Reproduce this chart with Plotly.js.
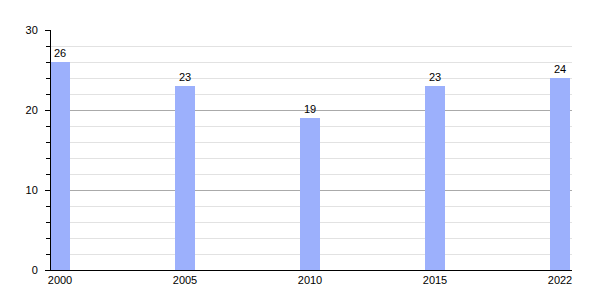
<!DOCTYPE html>
<html><head><meta charset="utf-8">
<script src="https://cdn.plot.ly/plotly-3.0.1.min.js"></script>
<style>html,body{margin:0;padding:0;background:#fff}#c{width:600px;height:300px}</style>
</head><body><div id="c"></div>
<script>
const years = ['2000','2005','2010','2015','2022'];
const values = [26, 23, 19, 23, 24];
const yTicks = [0, 10, 20, 30];

Plotly.newPlot('c', [{
  type: 'bar',
  x: years,
  y: values,
  width: 0.16,
  marker: {color: '#9cb0fc'},
  text: values.map(String),
  textposition: 'outside',
  cliponaxis: false,
  textfont: {family: 'Liberation Sans, Arial, sans-serif', size: 11, color: '#000000'},
  hoverinfo: 'none'
}], {
  width: 600, height: 300,
  margin: {l: 51, r: 28, t: 30, b: 30},
  paper_bgcolor: '#fff', plot_bgcolor: '#fff',
  showlegend: false,
  font: {family: 'Liberation Sans, Arial, sans-serif', size: 11, color: '#000000'},
  xaxis: {
    type: 'category',
    range: [-0.072, 4.096],
    showgrid: false,
    showline: true, linecolor: '#000', linewidth: 1,
    ticks: '', tickfont: {size: 11, color: '#000000'},
    zeroline: false
  },
  yaxis: {
    range: [0, 30],
    tickvals: yTicks,
    showgrid: true, gridcolor: '#aaaaaa', gridwidth: 1,
    showline: true, linecolor: '#000', linewidth: 1,
    ticks: 'outside', ticklen: 5, tickcolor: '#000',
    ticklabelstandoff: 5,
    tickfont: {size: 11, color: '#000000'},
    zeroline: false,
    minor: {dtick: 2, tick0: 0, ticks: 'outside', ticklen: 4, tickcolor: '#000', showgrid: true, gridcolor: '#e2e2e2', gridwidth: 1}
  },
  bargap: 0
}, {staticPlot: true, displayModeBar: false});
</script></body></html>
